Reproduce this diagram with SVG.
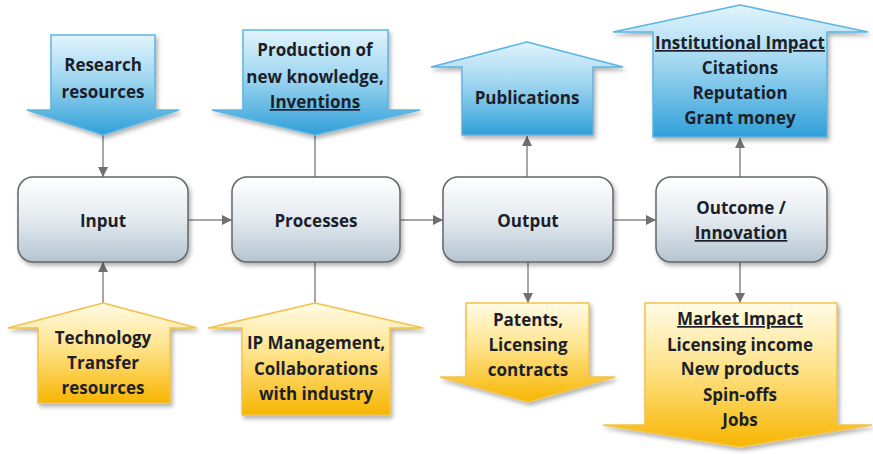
<svg xmlns="http://www.w3.org/2000/svg" width="873" height="454" viewBox="0 0 873 454">
<defs>
<linearGradient id="gBlue" x1="0" y1="0" x2="0" y2="1">
<stop offset="0" stop-color="#e2f4fc"/>
<stop offset="0.45" stop-color="#9fd6f0"/>
<stop offset="1" stop-color="#2f9fd8"/>
</linearGradient>
<linearGradient id="gYellow" x1="0" y1="0" x2="0" y2="1">
<stop offset="0" stop-color="#fffbe6"/>
<stop offset="0.45" stop-color="#ffe38a"/>
<stop offset="1" stop-color="#f7b500"/>
</linearGradient>
<linearGradient id="gNode" x1="0" y1="0" x2="0" y2="1">
<stop offset="0" stop-color="#ffffff"/>
<stop offset="0.5" stop-color="#e3eaef"/>
<stop offset="1" stop-color="#b4c4d0"/>
</linearGradient>
<filter id="sh" x="-10%" y="-10%" width="125%" height="130%">
<feDropShadow dx="2" dy="3" stdDeviation="2" flood-color="#000" flood-opacity="0.3"/>
</filter>
<marker id="ah" viewBox="0 0 10 10" refX="10" refY="5" markerWidth="10" markerHeight="10" markerUnits="userSpaceOnUse" orient="auto">
<path d="M0,0 L10,5 L0,10 Z" fill="#707070"/>
</marker>
</defs>
<style>
.blue{fill:url(#gBlue);stroke:#5bb5e2;stroke-width:1.5;filter:url(#sh)}
.yel{fill:url(#gYellow);stroke:#f3c24a;stroke-width:1.5;filter:url(#sh)}
.node{fill:url(#gNode);stroke:#666;stroke-width:1.5;filter:url(#sh)}
text{font-family:"Open Sans","Liberation Sans",sans-serif;font-weight:700;font-size:17px;fill:#1c1f2a;text-anchor:middle}
.u{text-decoration:underline}
.c{stroke:#8a8a8a;stroke-width:1.5;fill:none}
.ca{stroke:#8a8a8a;stroke-width:1.5;fill:none;marker-end:url(#ah)}
</style>
<g id="connectors">
<line class="ca" x1="103" y1="135" x2="103" y2="177"/>
<line class="c" x1="315" y1="135" x2="315" y2="177"/>
<line class="ca" x1="188" y1="220" x2="232" y2="220"/>
<line class="ca" x1="400" y1="220" x2="443" y2="220"/>
<line class="ca" x1="613" y1="220" x2="656" y2="220"/>
<line class="ca" x1="527" y1="177" x2="527" y2="136"/>
<line class="ca" x1="740" y1="177" x2="740" y2="138"/>
<line class="ca" x1="103" y1="303" x2="103" y2="262"/>
<line class="c" x1="315" y1="303" x2="315" y2="262"/>
<line class="ca" x1="528" y1="262" x2="528" y2="303"/>
<line class="ca" x1="740" y1="262" x2="740" y2="303"/>
</g>
<g id="research">
<path class="blue" d="M51,35 H155 V110 H179 L103,135 L27,110 H51 Z"/>
<text x="103" y="71">Research</text>
<text x="103" y="98">resources</text>
</g>
<g id="production">
<path class="blue" d="M243,30 H388 V110 H420 L315,135 L212,110 H243 Z"/>
<text x="315" y="56">Production of</text>
<text x="315" y="83">new knowledge,</text>
<text x="315" y="108" class="u">Inventions</text>
</g>
<g id="publications">
<path class="blue" d="M527,42 L623,67 H593 V135 H462 V67 H431 Z"/>
<text x="527" y="104">Publications</text>
</g>
<g id="institutional">
<path class="blue" d="M740,5 L868,32 H827 V137 H653 V32 H613 Z"/>
<text x="740" y="49" class="u">Institutional Impact</text>
<text x="740" y="74">Citations</text>
<text x="740" y="99">Reputation</text>
<text x="740" y="124">Grant money</text>
</g>
<g id="input">
<rect class="node" x="18" y="177" width="170" height="85" rx="15"/>
<text x="103" y="227">Input</text>
</g>
<g id="processes">
<rect class="node" x="232" y="177" width="168" height="85" rx="15"/>
<text x="316" y="227">Processes</text>
</g>
<g id="output">
<rect class="node" x="443" y="177" width="170" height="85" rx="15"/>
<text x="528" y="227">Output</text>
</g>
<g id="outcome">
<rect class="node" x="656" y="177" width="171" height="85" rx="15"/>
<text x="741" y="214">Outcome /</text>
<text x="741" y="239" class="u">Innovation</text>
</g>
<g id="technology">
<path class="yel" d="M103,303 L197,328 H170 V403 H38 V328 H8 Z"/>
<text x="103" y="344">Technology</text>
<text x="103" y="369">Transfer</text>
<text x="103" y="394">resources</text>
</g>
<g id="ipmanagement">
<path class="yel" d="M315,303 L423,328 H390 V415 H242 V328 H208 Z"/>
<text x="316" y="349">IP Management,</text>
<text x="316" y="375">Collaborations</text>
<text x="316" y="400">with industry</text>
</g>
<g id="patents">
<path class="yel" d="M466,303 H589 V377 H615 L528,402 L440,377 H466 Z"/>
<text x="528" y="326">Patents,</text>
<text x="528" y="351">Licensing</text>
<text x="528" y="376">contracts</text>
</g>
<g id="market">
<path class="yel" d="M645,303 H837 V425 H872 L740,447 L603,425 H645 Z"/>
<text x="740" y="325" class="u">Market Impact</text>
<text x="740" y="351">Licensing income</text>
<text x="740" y="375">New products</text>
<text x="740" y="401">Spin-offs</text>
<text x="740" y="426">Jobs</text>
</g>
</svg>
